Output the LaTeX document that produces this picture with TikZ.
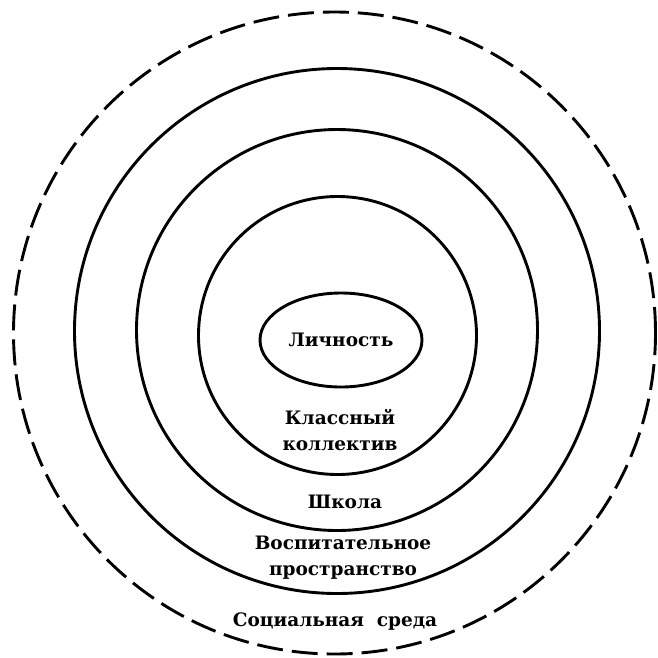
\documentclass[tikz,border=0pt]{standalone}
\usepackage{fontspec}
\setmainfont{DejaVu Serif}
\usetikzlibrary{shapes.geometric}

\begin{document}
\begin{tikzpicture}[
  x=1pt, y=-1pt,
  ring/.style={circle, draw, line width=2.9pt, inner sep=0pt},
  dashring/.style={ring, dash pattern=on 26pt off 9pt},
  spheretext/.style={font=\fontsize{18.5}{25.5}\selectfont\bfseries, align=center, inner sep=0pt}
]
\useasboundingbox (0,0) rectangle (658,657);
% concentric spheres, outermost first
\node[dashring, minimum size=642pt] (social) at (334.5,333) {};
\node[ring, minimum size=525pt] (space) at (337,331) {};
\node[ring, minimum size=401pt] (school) at (337,330) {};
\node[ring, minimum size=278pt] (class) at (337.5,335.5) {};
\node[ellipse, draw, line width=2.9pt, minimum width=162pt, minimum height=94pt, font=\fontsize{18.5}{25.5}\selectfont\bfseries] (person) at (341,340) {Личность};
% labels of the rings
\node[spheretext] (classtxt) at (340,430) {Классный\\коллектив};
\node[spheretext] (schooltxt) at (345,502) {Школа};
\node[spheretext] (spacetxt) at (343,557.5) {Воспитательное\\пространство};
\node[spheretext] (socialtxt) at (335,622) {Социальная~~среда};
\end{tikzpicture}
\end{document}
